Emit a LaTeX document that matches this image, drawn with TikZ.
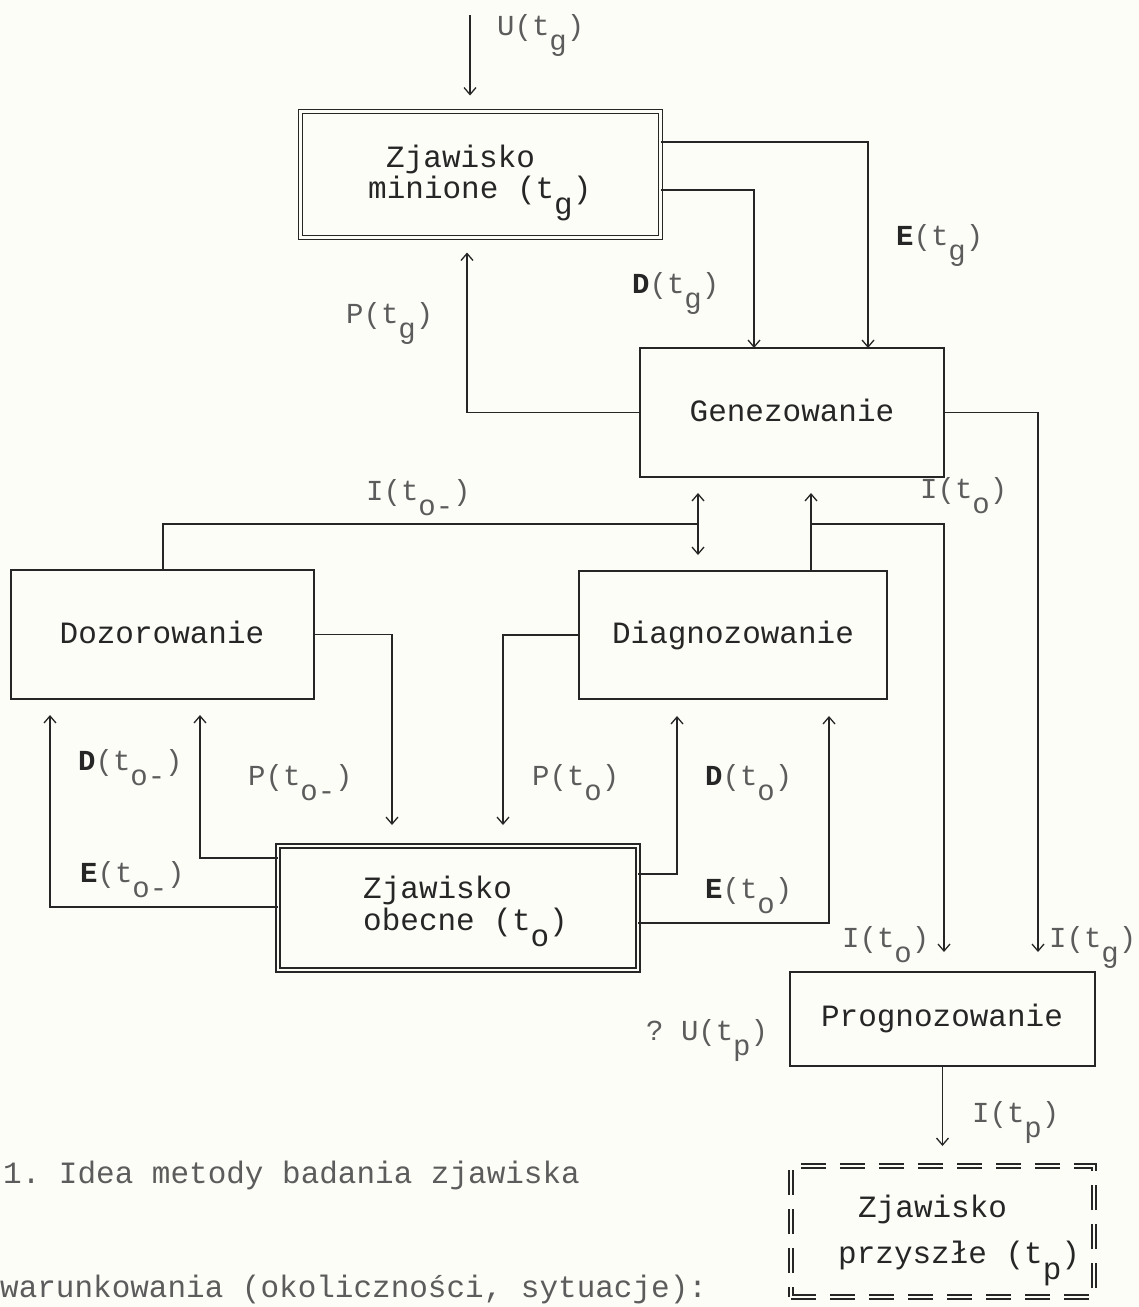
\documentclass[tikz,border=0pt]{standalone}
\usepackage{fontspec}
\setmonofont{Liberation Mono}
\usetikzlibrary{arrows.meta}
\definecolor{ink}{HTML}{262626}
\definecolor{soft}{HTML}{5C5C5C}
\definecolor{paper}{HTML}{FDFDF8}
\newcommand\bxfont{\fontsize{31}{36}\selectfont\ttfamily}
\newcommand\lbfont{\fontsize{29}{34}\selectfont\ttfamily}
\newcommand\lo[1]{\raisebox{-15pt}{#1}}
\newcommand\blo[1]{\raisebox{-16pt}{#1}}
\newcommand\bl[1]{\textcolor{ink}{\textbf{#1}}}
\begin{document}
\begin{tikzpicture}[x=1pt,y=-1pt,
  box/.style={rectangle, draw=ink, line width=1.3pt, inner sep=0pt, outer sep=0pt},
  dbox/.style={box, double=paper, double distance=2.5pt},
  ddbox/.style={dbox, dash pattern=on 25pt off 14pt},
  ln/.style={draw=ink, line width=1.3pt},
  arr/.style={ln, -{Straight Barb[length=7pt,width=12pt]}},
  darr/.style={ln, {Straight Barb[length=7pt,width=12pt]}-{Straight Barb[length=7pt,width=12pt]}},
  lab/.style={anchor=base west, inner sep=0pt, font=\lbfont, text=soft},
  btx/.style={anchor=base west, inner sep=0pt, font=\bxfont, text=ink},
  ctx/.style={anchor=base, inner sep=0pt, font=\bxfont, text=ink},
  captxt/.style={anchor=base west, inner sep=0pt, font=\bxfont, text=soft}
]
\useasboundingbox (0,0) rectangle (1139,1307);
\fill[paper] (0,0) rectangle (1139,1307);

% boxes
\node[dbox, minimum width=360pt, minimum height=126pt] (minione) at (480.5,174.5) {};
\node[box, minimum width=304pt, minimum height=129pt] (gen) at (792,412.5) {};
\node[box, minimum width=303pt, minimum height=129pt] (doz) at (162.5,634.5) {};
\node[box, minimum width=308pt, minimum height=128pt] (diag) at (733,635) {};
\node[dbox, minimum width=360pt, minimum height=124pt] (obecne) at (458,908) {};
\node[box, minimum width=305pt, minimum height=94pt] (prog) at (942.5,1019) {};
\node[ddbox, minimum width=303pt, minimum height=131pt] (przysz) at (942.5,1231.5) {};

% box texts
\node[btx] (tmin1) at (386,167) {Zjawisko};
\node[btx] (tmin2) at (368,198) {minione (t\blo{g})};
\node[ctx] (tgen) at (792,421) {Genezowanie};
\node[ctx] (tdoz) at (162,643) {Dozorowanie};
\node[ctx] (tdiag) at (733,643) {Diagnozowanie};
\node[btx] (tob1) at (363,898) {Zjawisko};
\node[btx] (tob2) at (363,930) {obecne (t\blo{o})};
\node[ctx] (tprog) at (942,1026) {Prognozowanie};
\node[btx] (tprz1) at (858,1217) {Zjawisko};
\node[btx] (tprz2) at (838,1263) {przyszłe (t\blo{p})};

% connectors
\coordinate (uTop) at (470,15);
\draw[arr, shorten >=16pt] (uTop) -- (uTop |- minione.north);
\draw[arr] (minione.east |- 0,142) -| (gen.north -| 868,0);
\draw[arr] (minione.east |- 0,190) -| (gen.north -| 754,0);
\draw[arr, shorten >=15pt] (gen.west) -| (minione.south -| 467,0);
\draw[arr, shorten >=20pt] (gen.east) -| (prog.north -| 1038,0);
\coordinate (dbl) at (698,524);
\coordinate (br) at (811,524);
\draw[ln] (doz.north -| 163,0) |- (dbl);
\draw[darr, shorten <=16pt, shorten >=16pt] (gen.south -| dbl) -- (diag.north -| dbl);
\draw[arr, shorten >=16pt] (diag.north -| br) -- (gen.south -| br);
\draw[arr, shorten >=20pt] (br) -| (prog.north -| 944,0);
\draw[arr, shorten >=21pt] (doz.east) -| (obecne.north -| 392,0);
\draw[arr, shorten >=21pt] (diag.west) -| (obecne.north -| 503,0);
\draw[arr, shorten >=16pt] (obecne.west |- 0,858) -| (doz.south -| 200,0);
\draw[arr, shorten >=16pt] (obecne.west |- 0,907) -| (doz.south -| 50,0);
\draw[arr, shorten >=17pt] (obecne.east |- 0,874) -| (diag.south -| 677,0);
\draw[arr, shorten >=17pt] (obecne.east |- 0,923) -| (diag.south -| 829,0);
\draw[arr, shorten >=20pt] (prog.south) -- (przysz.north);

% labels
\node[lab] (lUg) at (497,35) {U(t\lo{g})};
\node[lab] (lEg) at (896,245) {\bl{E}(t\lo{g})};
\node[lab] (lDg) at (632,293) {\bl{D}(t\lo{g})};
\node[lab] (lPg) at (346,323) {P(t\lo{g})};
\node[lab] (lIom) at (366,500) {I(t\lo{o-})};
\node[lab] (lIo1) at (920,498) {I(t\lo{o})};
\node[lab] (lDom) at (78,770) {\bl{D}(t\lo{o-})};
\node[lab] (lPom) at (248,785) {P(t\lo{o-})};
\node[lab] (lEom) at (80,882) {\bl{E}(t\lo{o-})};
\node[lab] (lPo) at (532,785) {P(t\lo{o})};
\node[lab] (lDo) at (705,785) {\bl{D}(t\lo{o})};
\node[lab] (lEo) at (705,898) {\bl{E}(t\lo{o})};
\node[lab] (lIo2) at (842,947) {I(t\lo{o})};
\node[lab] (lIg) at (1049,947) {I(t\lo{g})};
\node[lab] (lUp) at (646,1040) {? U(t\lo{p})};
\node[lab] (lIp) at (972,1122) {I(t\lo{p})};

% caption and bottom text line
\node[captxt] (capt) at (3,1183) {1. Idea metody badania zjawiska};
\node[captxt] (cond) at (0,1297) {warunkowania (okoliczności, sytuacje):};
\end{tikzpicture}
\end{document}
